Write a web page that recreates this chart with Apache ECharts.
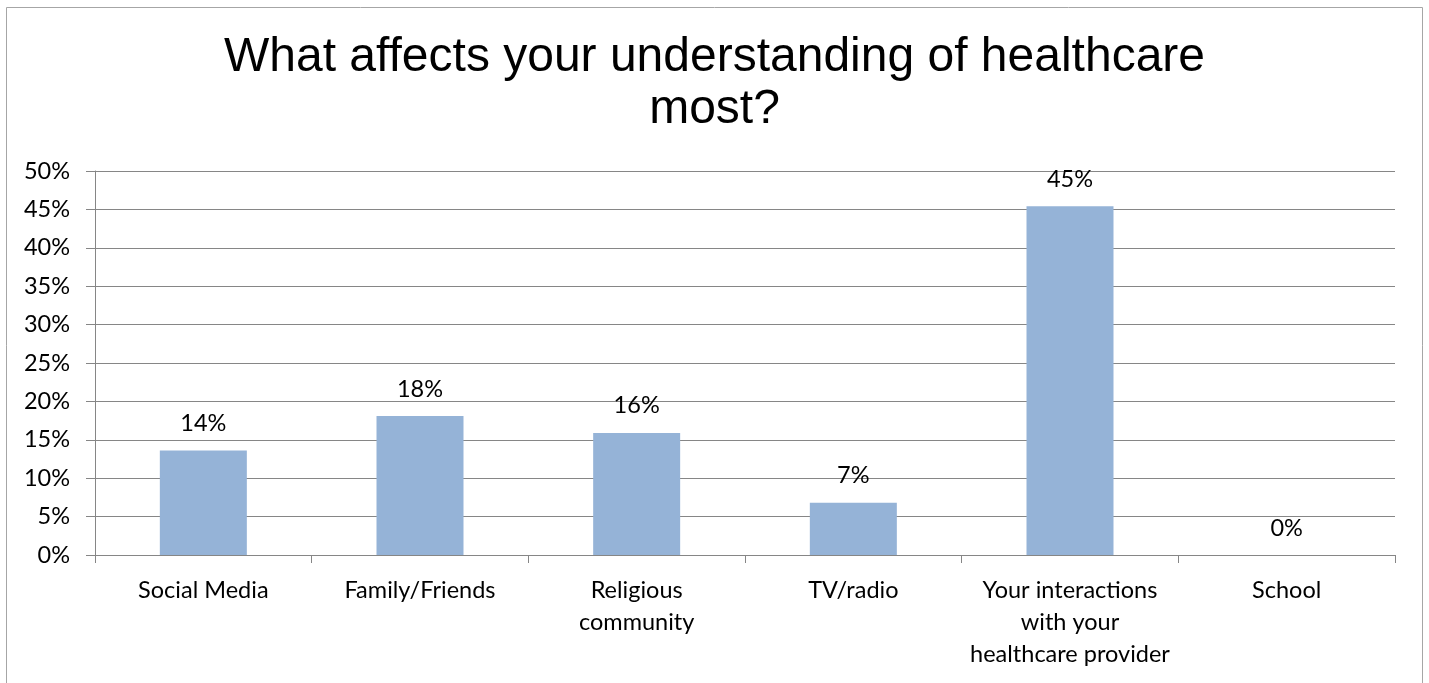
<!DOCTYPE html>
<html>
<head>
<meta charset="utf-8">
<script src="https://cdn.jsdelivr.net/npm/echarts@6/dist/echarts.min.js"></script>
<style>
html,body{margin:0;padding:0;background:#fff;}
#chart{width:1429px;height:683px;}
</style>
</head>
<body>
<div id="chart"></div>
<script>
const titleText = 'What affects your understanding of healthcare\nmost?';
const categories = ['Social Media', 'Family/Friends', 'Religious\ncommunity', 'TV/radio', 'Your interactions\nwith your\nhealthcare provider', 'School'];
const values = [13.6, 18.1, 15.9, 6.8, 45.4, 0];
const yTicks = [0, 5, 10, 15, 20, 25, 30, 35, 40, 45, 50];

const chart = echarts.init(document.getElementById('chart'), null, {renderer: 'canvas'});
const labelFont = 'Lato, "Open Sans", sans-serif';
chart.setOption({
  animation: false,
  backgroundColor: '#ffffff',
  graphic: [{
    type: 'rect',
    shape: {x: 6.5, y: 7.5, width: 1416, height: 700},
    style: {fill: 'none', stroke: '#a6a6a6', lineWidth: 1},
    silent: true
  }],
  title: {
    text: titleText,
    left: 'center',
    top: 27,
    textStyle: {
      fontFamily: '"Liberation Sans", Arial, sans-serif',
      fontSize: 48,
      fontWeight: 'normal',
      color: '#000',
      lineHeight: 52
    }
  },
  grid: {left: 95, right: 34, top: 171, bottom: 128, containLabel: false},
  xAxis: {
    type: 'category',
    data: categories,
    axisLine: {show: true, lineStyle: {color: '#868686', width: 1}},
    axisTick: {show: true, length: 8, alignWithLabel: false, lineStyle: {color: '#868686'}},
    axisLabel: {
      interval: 0,
      margin: 19,
      color: '#000',
      fontFamily: labelFont,
      fontSize: 23.5,
      lineHeight: 32
    }
  },
  yAxis: {
    type: 'value',
    min: 0,
    max: 50,
    interval: 5,
    axisLine: {show: true, lineStyle: {color: '#868686', width: 1}},
    axisTick: {show: true, length: 9, inside: false, lineStyle: {color: '#868686'}},
    splitLine: {show: true, lineStyle: {color: '#868686', width: 1}},
    axisLabel: {
      margin: 25,
      color: '#000',
      fontFamily: labelFont,
      fontSize: 23.5,
      formatter: function (v) { return yTicks.indexOf(v) >= 0 ? v + '%' : ''; }
    }
  },
  series: [{
    type: 'bar',
    data: values,
    barWidth: 87,
    itemStyle: {color: '#95b3d7'},
    label: {
      show: true,
      position: 'top',
      distance: 15,
      color: '#000',
      fontFamily: labelFont,
      fontSize: 23.5,
      formatter: function (p) { return Math.round(p.value) + '%'; }
    }
  }]
});
</script>
</body>
</html>
